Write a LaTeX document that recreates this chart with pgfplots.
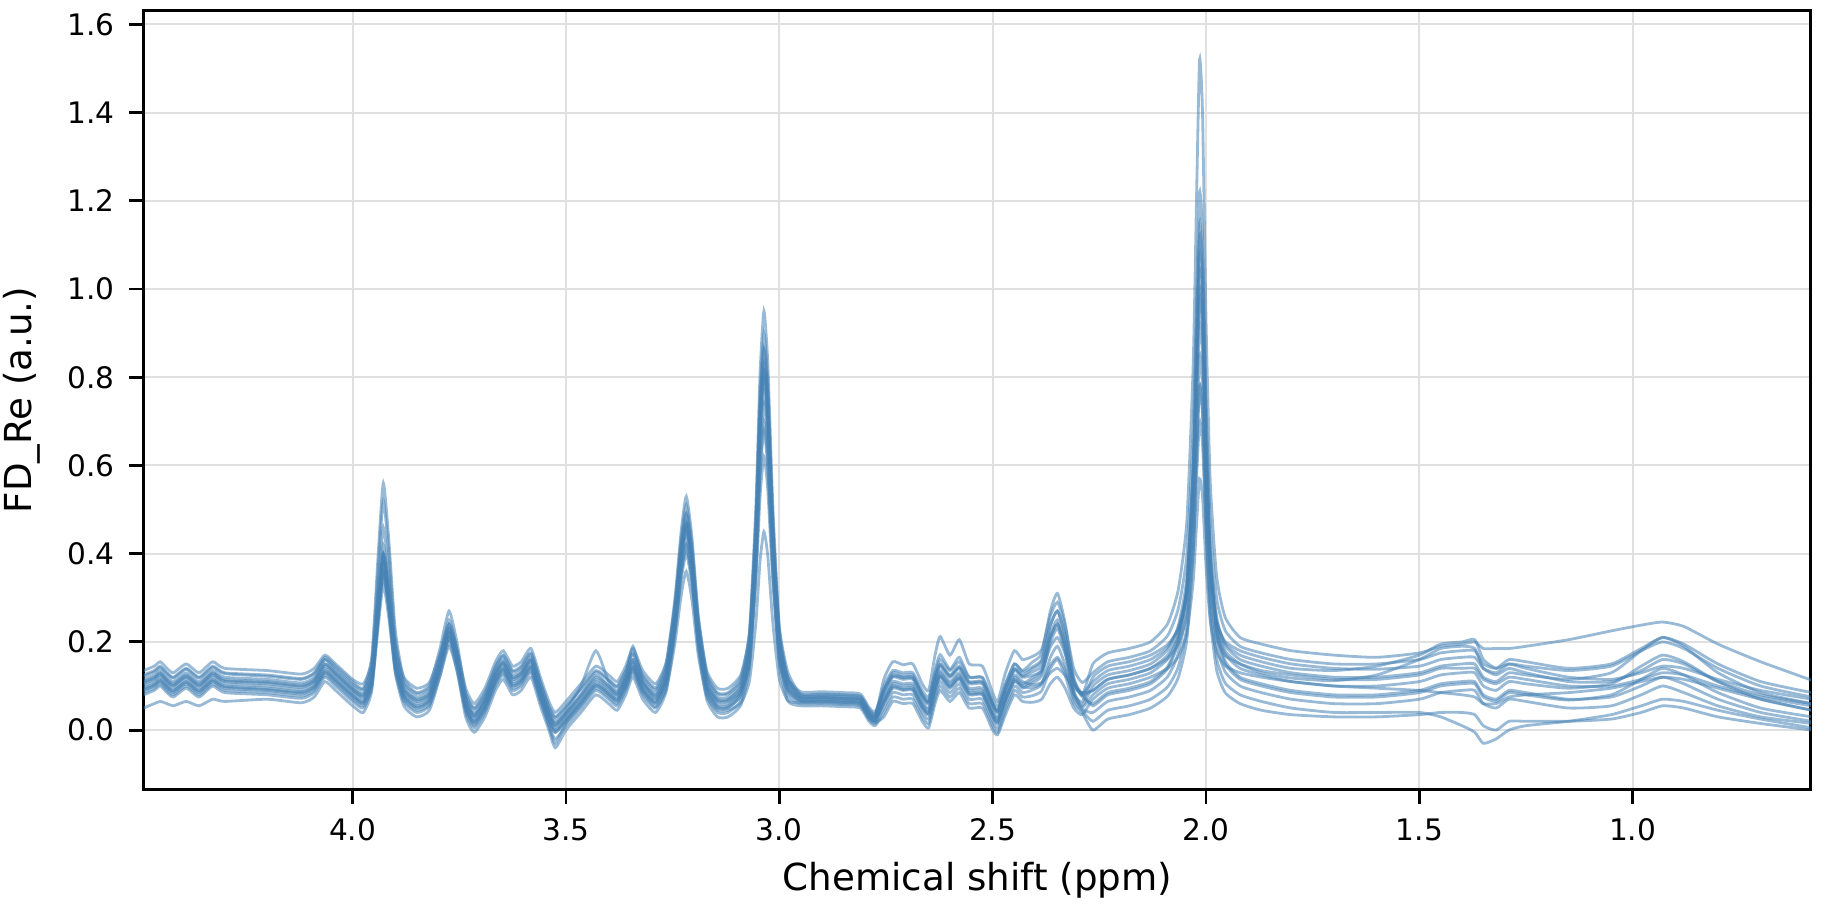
\documentclass[border=0pt]{standalone}
\usepackage{fontspec}
\setmainfont{DejaVu Sans}
\usepackage{pgfplots}
\usepackage{pgfplotstable}
\pgfplotsset{compat=1.18}
\usetikzlibrary{calc}
\definecolor{steel}{RGB}{70,130,180}
\definecolor{gridc}{RGB}{224,224,224}
\pgfplotstableread{
x s1 s2 s3 s4 s5 s6 s7 s8 s9 s10 s11 s12 s13 s14
4.49 .125 .115 .135 .100 .090 .110 .080 .050 .105 .085 .095 .122 .108 .092
4.465 .135 .125 .145 .110 .100 .120 .090 .060 .115 .095 .105 .132 .118 .102
4.451 .145 .135 .155 .120 .110 .130 .100 .065 .125 .105 .115 .142 .128 .112
4.435 .130 .120 .140 .105 .095 .115 .085 .060 .110 .090 .100 .128 .112 .098
4.42 .120 .110 .130 .095 .085 .105 .075 .055 .100 .080 .090 .118 .102 .088
4.39 .140 .130 .150 .115 .105 .125 .095 .065 .120 .100 .110 .138 .122 .108
4.36 .120 .110 .130 .095 .085 .105 .075 .055 .100 .080 .090 .118 .102 .088
4.328 .145 .135 .155 .120 .110 .130 .100 .070 .125 .105 .115 .142 .128 .112
4.30 .130 .120 .140 .105 .095 .115 .085 .065 .110 .090 .100 .128 .112 .098
4.20 .125 .115 .135 .100 .090 .110 .080 .070 .105 .085 .095 .122 .108 .092
4.12 .117 .107 .127 .092 .082 .102 .072 .062 .097 .077 .087 .115 .100 .085
4.09 .130 .120 .140 .105 .095 .115 .085 .075 .110 .090 .100 .128 .112 .098
4.065 .165 .160 .170 .140 .130 .150 .120 .110 .145 .125 .135 .160 .150 .132
4.04 .145 .135 .150 .120 .110 .130 .100 .090 .125 .105 .115 .140 .128 .112
4.00 .110 .100 .115 .085 .075 .095 .065 .055 .090 .070 .080 .105 .092 .078
3.975 .095 .085 .105 .070 .060 .080 .050 .040 .075 .055 .065 .092 .078 .062
3.955 .168 .153 .154 .122 .112 .127 .100 .090 .118 .098 .117 .140 .138 .109
3.94 .400 .370 .312 .287 .277 .277 .260 .250 .255 .235 .282 .295 .328 .258
3.928 .560 .520 .420 .400 .390 .380 .370 .360 .350 .330 .395 .400 .460 .360
3.915 .429 .398 .331 .307 .297 .296 .280 .270 .273 .253 .302 .314 .352 .277
3.90 .226 .207 .194 .163 .153 .164 .140 .130 .152 .132 .158 .179 .185 .146
3.88 .117 .105 .120 .085 .075 .094 .065 .055 .088 .068 .080 .107 .095 .077
3.85 .085 .075 .095 .060 .050 .070 .040 .030 .065 .045 .055 .082 .068 .052
3.82 .102 .091 .108 .075 .065 .084 .055 .045 .078 .058 .070 .096 .083 .067
3.795 .186 .170 .174 .153 .143 .152 .133 .123 .144 .124 .148 .163 .162 .139
3.774 .270 .250 .240 .230 .220 .220 .210 .200 .210 .190 .225 .230 .240 .210
3.755 .197 .181 .183 .163 .153 .161 .143 .133 .153 .133 .158 .172 .172 .148
3.735 .085 .075 .095 .060 .050 .070 .040 .030 .065 .045 .055 .082 .068 .052
3.715 .050 .040 .060 .025 .015 .035 .005 -.005 .030 .010 .020 .048 .032 .018
3.69 .085 .075 .095 .060 .050 .070 .040 .030 .065 .045 .055 .082 .068 .052
3.665 .145 .135 .155 .120 .110 .130 .100 .090 .125 .105 .115 .142 .128 .112
3.647 .170 .160 .180 .145 .135 .155 .125 .115 .150 .130 .140 .168 .152 .138
3.625 .135 .125 .145 .110 .100 .120 .090 .080 .115 .095 .105 .132 .118 .102
3.605 .145 .135 .155 .120 .110 .130 .100 .090 .125 .105 .115 .142 .128 .112
3.582 .175 .165 .185 .150 .140 .160 .130 .120 .155 .135 .145 .172 .158 .142
3.56 .110 .100 .120 .085 .075 .095 .065 .055 .090 .070 .080 .108 .092 .078
3.54 .055 .045 .065 .030 .020 .040 .010 .000 .035 .010 .025 .052 .038 .022
3.525 .030 .020 .040 .005 -.005 .015 -.020 -.040 .010 -.030 .000 .028 .012 -.005
3.50 .055 .045 .065 .030 .020 .040 .010 .000 .035 .015 .025 .052 .038 .022
3.465 .095 .100 .105 .070 .060 .080 .050 .040 .075 .055 .065 .092 .080 .062
3.43 .135 .180 .145 .110 .100 .120 .090 .080 .115 .095 .105 .132 .125 .102
3.40 .115 .110 .125 .090 .080 .100 .070 .060 .095 .075 .085 .112 .100 .082
3.38 .100 .090 .110 .075 .065 .085 .055 .045 .080 .060 .070 .098 .082 .068
3.36 .135 .125 .145 .110 .100 .120 .090 .080 .115 .095 .105 .132 .118 .102
3.343 .175 .190 .185 .150 .140 .160 .130 .120 .155 .135 .145 .172 .160 .142
3.32 .125 .115 .135 .100 .090 .110 .080 .070 .105 .085 .095 .122 .108 .092
3.29 .096 .086 .105 .070 .060 .080 .050 .040 .073 .053 .065 .092 .078 .062
3.265 .152 .140 .154 .122 .112 .127 .100 .088 .115 .092 .117 .140 .131 .108
3.245 .296 .282 .283 .255 .245 .251 .230 .215 .224 .195 .250 .267 .268 .227
3.23 .451 .434 .421 .398 .388 .384 .370 .352 .341 .305 .393 .402 .416 .356
3.218 .530 .510 .490 .470 .460 .450 .440 .420 .400 .360 .465 .470 .490 .420
3.205 .440 .423 .411 .388 .378 .374 .360 .342 .333 .297 .383 .392 .405 .346
3.19 .263 .249 .253 .224 .214 .222 .200 .186 .199 .171 .219 .238 .236 .200
3.17 .129 .119 .135 .101 .091 .108 .080 .069 .099 .077 .096 .122 .110 .090
3.145 .085 .075 .095 .060 .050 .070 .040 .030 .065 .045 .055 .082 .068 .052
3.12 .085 .075 .095 .060 .050 .070 .040 .030 .065 .045 .055 .082 .068 .052
3.09 .120 .108 .126 .091 .080 .098 .068 .057 .088 .061 .086 .112 .100 .078
3.07 .225 .209 .219 .185 .172 .184 .154 .139 .155 .111 .178 .202 .197 .154
3.055 .506 .476 .467 .434 .415 .411 .381 .356 .335 .242 .424 .439 .455 .358
3.045 .810 .766 .736 .705 .678 .657 .627 .591 .530 .384 .692 .696 .736 .578
3.036 .950 .900 .860 .830 .800 .770 .740 .700 .620 .450 .815 .815 .865 .680
3.027 .833 .789 .757 .726 .699 .675 .645 .609 .545 .395 .712 .716 .758 .595
3.015 .506 .476 .467 .434 .415 .411 .381 .356 .335 .242 .424 .439 .455 .358
3.00 .237 .220 .229 .195 .182 .193 .163 .148 .163 .116 .188 .211 .208 .163
2.98 .132 .120 .120 .102 .091 .108 .078 .066 .095 .067 .096 .114 .111 .086
2.95 .082 .078 .087 .070 .065 .075 .060 .055 .073 .062 .068 .081 .074 .066
2.90 .082 .078 .087 .070 .065 .075 .060 .055 .073 .062 .068 .081 .074 .066
2.85 .080 .076 .085 .068 .063 .073 .058 .053 .071 .060 .066 .079 .072 .064
2.81 .077 .073 .082 .065 .060 .070 .055 .050 .068 .057 .062 .076 .069 .062
2.79 .047 .043 .052 .035 .030 .040 .025 .020 .038 .027 .032 .046 .039 .032
2.775 .037 .033 .042 .025 .020 .030 .015 .010 .028 .017 .022 .036 .029 .022
2.755 .100 .115 .090 .070 .060 .085 .050 .040 .075 .030 .065 .088 .092 .062
2.734 .135 .155 .125 .105 .095 .120 .085 .075 .110 .065 .100 .122 .130 .098
2.71 .130 .148 .120 .100 .090 .115 .080 .070 .105 .060 .095 .118 .124 .092
2.687 .130 .150 .120 .100 .090 .115 .080 .070 .105 .060 .095 .118 .125 .092
2.665 .090 .105 .080 .060 .050 .075 .040 .030 .065 .020 .055 .078 .082 .052
2.65 .075 .090 .065 .045 .035 .060 .025 .015 .050 .005 .040 .062 .068 .038
2.635 .130 .170 .120 .100 .090 .115 .080 .070 .105 .060 .095 .118 .135 .092
2.623 .160 .212 .150 .130 .120 .145 .110 .100 .135 .090 .125 .148 .171 .122
2.60 .135 .170 .125 .105 .095 .120 .085 .075 .110 .065 .100 .122 .138 .098
2.578 .155 .205 .145 .125 .115 .140 .105 .095 .130 .085 .120 .142 .165 .118
2.555 .120 .150 .110 .090 .080 .105 .070 .060 .095 .050 .085 .108 .120 .082
2.524 .120 .145 .110 .090 .080 .105 .070 .060 .095 .050 .085 .108 .118 .082
2.50 .070 .085 .060 .040 .030 .055 .020 .010 .045 .000 .035 .058 .062 .032
2.488 .055 .065 .045 .025 .015 .040 .005 -.005 .030 -.010 .020 .042 .045 .018
2.47 .105 .130 .095 .075 .065 .090 .055 .045 .080 .035 .070 .092 .102 .068
2.449 .150 .180 .140 .120 .110 .135 .100 .090 .125 .080 .115 .138 .150 .112
2.43 .135 .160 .125 .105 .095 .120 .085 .075 .110 .065 .100 .122 .132 .098
2.407 .154 .167 .139 .119 .107 .124 .091 .078 .103 .063 .113 .132 .143 .097
2.385 .174 .183 .156 .136 .123 .135 .104 .089 .108 .070 .130 .146 .160 .106
2.365 .269 .258 .236 .216 .198 .188 .164 .139 .130 .105 .207 .212 .237 .147
2.348 .310 .290 .270 .250 .230 .210 .190 .160 .140 .120 .240 .240 .270 .165
2.33 .242 .236 .213 .193 .176 .173 .147 .124 .124 .095 .184 .193 .214 .136
2.31 .120 .140 .110 .090 .080 .105 .070 .060 .095 .050 .085 .108 .115 .082
2.29 .079 .108 .076 .056 .048 .083 .044 .039 .085 .035 .052 .080 .082 .064
2.265 .150 .130 .060 .100 .040 .110 .020 .000 .090 .070 .080 .090 .055 .120
2.23 .175 .155 .085 .125 .065 .135 .045 .025 .115 .095 .105 .115 .080 .145
2.18 .185 .165 .095 .135 .075 .145 .055 .035 .125 .105 .115 .125 .090 .155
2.13 .200 .180 .110 .150 .090 .160 .070 .050 .140 .120 .130 .140 .105 .170
2.09 .241 .214 .144 .182 .121 .188 .098 .077 .163 .140 .161 .170 .139 .194
2.065 .318 .275 .205 .236 .174 .232 .143 .119 .195 .166 .214 .218 .198 .229
2.045 .472 .396 .326 .344 .280 .320 .234 .204 .260 .218 .320 .316 .316 .300
2.03 .826 .675 .605 .593 .524 .523 .442 .399 .409 .337 .564 .540 .588 .462
2.022 1.212 .978 .908 .863 .788 .743 .669 .611 .571 .467 .828 .784 .883 .639
2.015 1.520 1.220 1.150 1.080 1.000 .920 .850 .780 .700 .570 1.040 .980 1.120 .780
2.008 1.397 1.123 1.053 .993 .915 .849 .778 .712 .648 .529 .955 .902 1.025 .724
2.000 .934 .760 .690 .669 .598 .585 .506 .458 .454 .373 .638 .609 .671 .512
1.99 .564 .469 .399 .409 .344 .373 .288 .255 .299 .249 .384 .374 .387 .342
1.975 .349 .299 .229 .257 .195 .249 .162 .136 .208 .177 .235 .238 .221 .244
1.955 .256 .226 .156 .192 .132 .196 .107 .085 .169 .146 .172 .179 .150 .201
1.92 .210 .190 .120 .160 .100 .170 .080 .060 .150 .130 .140 .150 .115 .180
1.87 .195 .175 .105 .145 .085 .155 .065 .045 .135 .120 .125 .130 .100 .165
1.80 .180 .160 .090 .130 .070 .140 .050 .035 .125 .110 .110 .118 .085 .150
1.70 .170 .150 .080 .120 .060 .135 .040 .030 .115 .100 .100 .112 .075 .140
1.60 .165 .150 .080 .120 .060 .145 .040 .030 .115 .095 .100 .125 .075 .138
1.50 .175 .160 .090 .130 .070 .170 .040 .035 .125 .090 .110 .160 .085 .145
1.45 .190 .175 .105 .145 .085 .195 .030 .040 .140 .085 .125 .185 .100 .160
1.40 .195 .180 .110 .150 .090 .200 .010 .040 .140 .080 .130 .190 .105 .165
1.37 .200 .180 .110 .150 .090 .205 -.005 .035 .140 .075 .130 .185 .105 .165
1.35 .185 .150 .080 .120 .060 .160 -.030 .010 .115 .060 .100 .140 .075 .140
1.32 .185 .140 .070 .110 .050 .140 -.020 .000 .105 .060 .090 .125 .065 .130
1.29 .185 .160 .090 .130 .070 .150 .000 .020 .120 .075 .110 .140 .085 .150
1.25 .190 .155 .085 .125 .065 .140 .010 .020 .115 .080 .105 .130 .080 .145
1.15 .205 .140 .070 .115 .050 .120 .020 .020 .100 .085 .095 .110 .068 .135
1.05 .225 .150 .075 .130 .055 .115 .035 .025 .100 .095 .105 .110 .080 .145
0.98 .238 .185 .100 .180 .080 .130 .055 .040 .115 .110 .145 .135 .115 .180
0.93 .245 .210 .120 .210 .100 .145 .070 .055 .130 .120 .170 .160 .140 .200
0.88 .235 .195 .105 .190 .085 .140 .065 .050 .125 .115 .155 .150 .125 .185
0.80 .195 .150 .070 .130 .055 .115 .045 .030 .100 .095 .110 .110 .085 .140
0.70 .155 .110 .040 .085 .030 .090 .025 .015 .075 .070 .070 .080 .050 .100
0.58 .113 .085 .020 .060 .015 .070 .005 .000 .055 .045 .045 .060 .030 .075
}\spectra
\begin{document}
\begin{tikzpicture}
\begin{axis}[
  scale only axis,
  width=416.75pt, height=194.6pt,
  x dir=reverse,
  xmin=0.582, xmax=4.489,
  ymin=-0.134, ymax=1.631,
  xtick={1.0,1.5,2.0,2.5,3.0,3.5,4.0},
  ytick={0,0.2,0.4,0.6,0.8,1.0,1.2,1.4,1.6},
  xticklabel style={/pgf/number format/.cd,fixed,fixed zerofill,precision=1},
  yticklabel style={/pgf/number format/.cd,fixed,fixed zerofill,precision=1},
  /pgf/number format/assume math mode=true,
  tick label style={font=\fontsize{7.4}{9}\selectfont},
  tick pos=left,
  tick align=outside,
  major tick length=3.8pt,
  every tick/.style={black, line width=0.7pt},
  axis line style={line width=0.75pt},
  grid=major,
  grid style={gridc, line width=0.5pt},
  xlabel={Chemical shift (ppm)},
  ylabel={FD\_Re (a.u.)},
  every axis x label/.style={at={(axis description cs:0.5,-0.117)},anchor=center,font=\fontsize{9.3}{11}\selectfont},
  every axis y label/.style={at={(axis description cs:-0.0732,0.5)},anchor=center,rotate=90,font=\fontsize{9.3}{11}\selectfont},
  clip=true,
]
\pgfplotsinvokeforeach{1,...,14}{
  \addplot[steel, opacity=0.55, line width=0.7pt, no marks, smooth, tension=0.35] table[x=x,y=s#1]{\spectra};
}
\end{axis}
\pgfresetboundingbox
\path ($(current axis.south west)+(-36pt,-30.25pt)$) rectangle ($(current axis.north east)+(5.25pt,2.7pt)$);
\end{tikzpicture}
\end{document}
